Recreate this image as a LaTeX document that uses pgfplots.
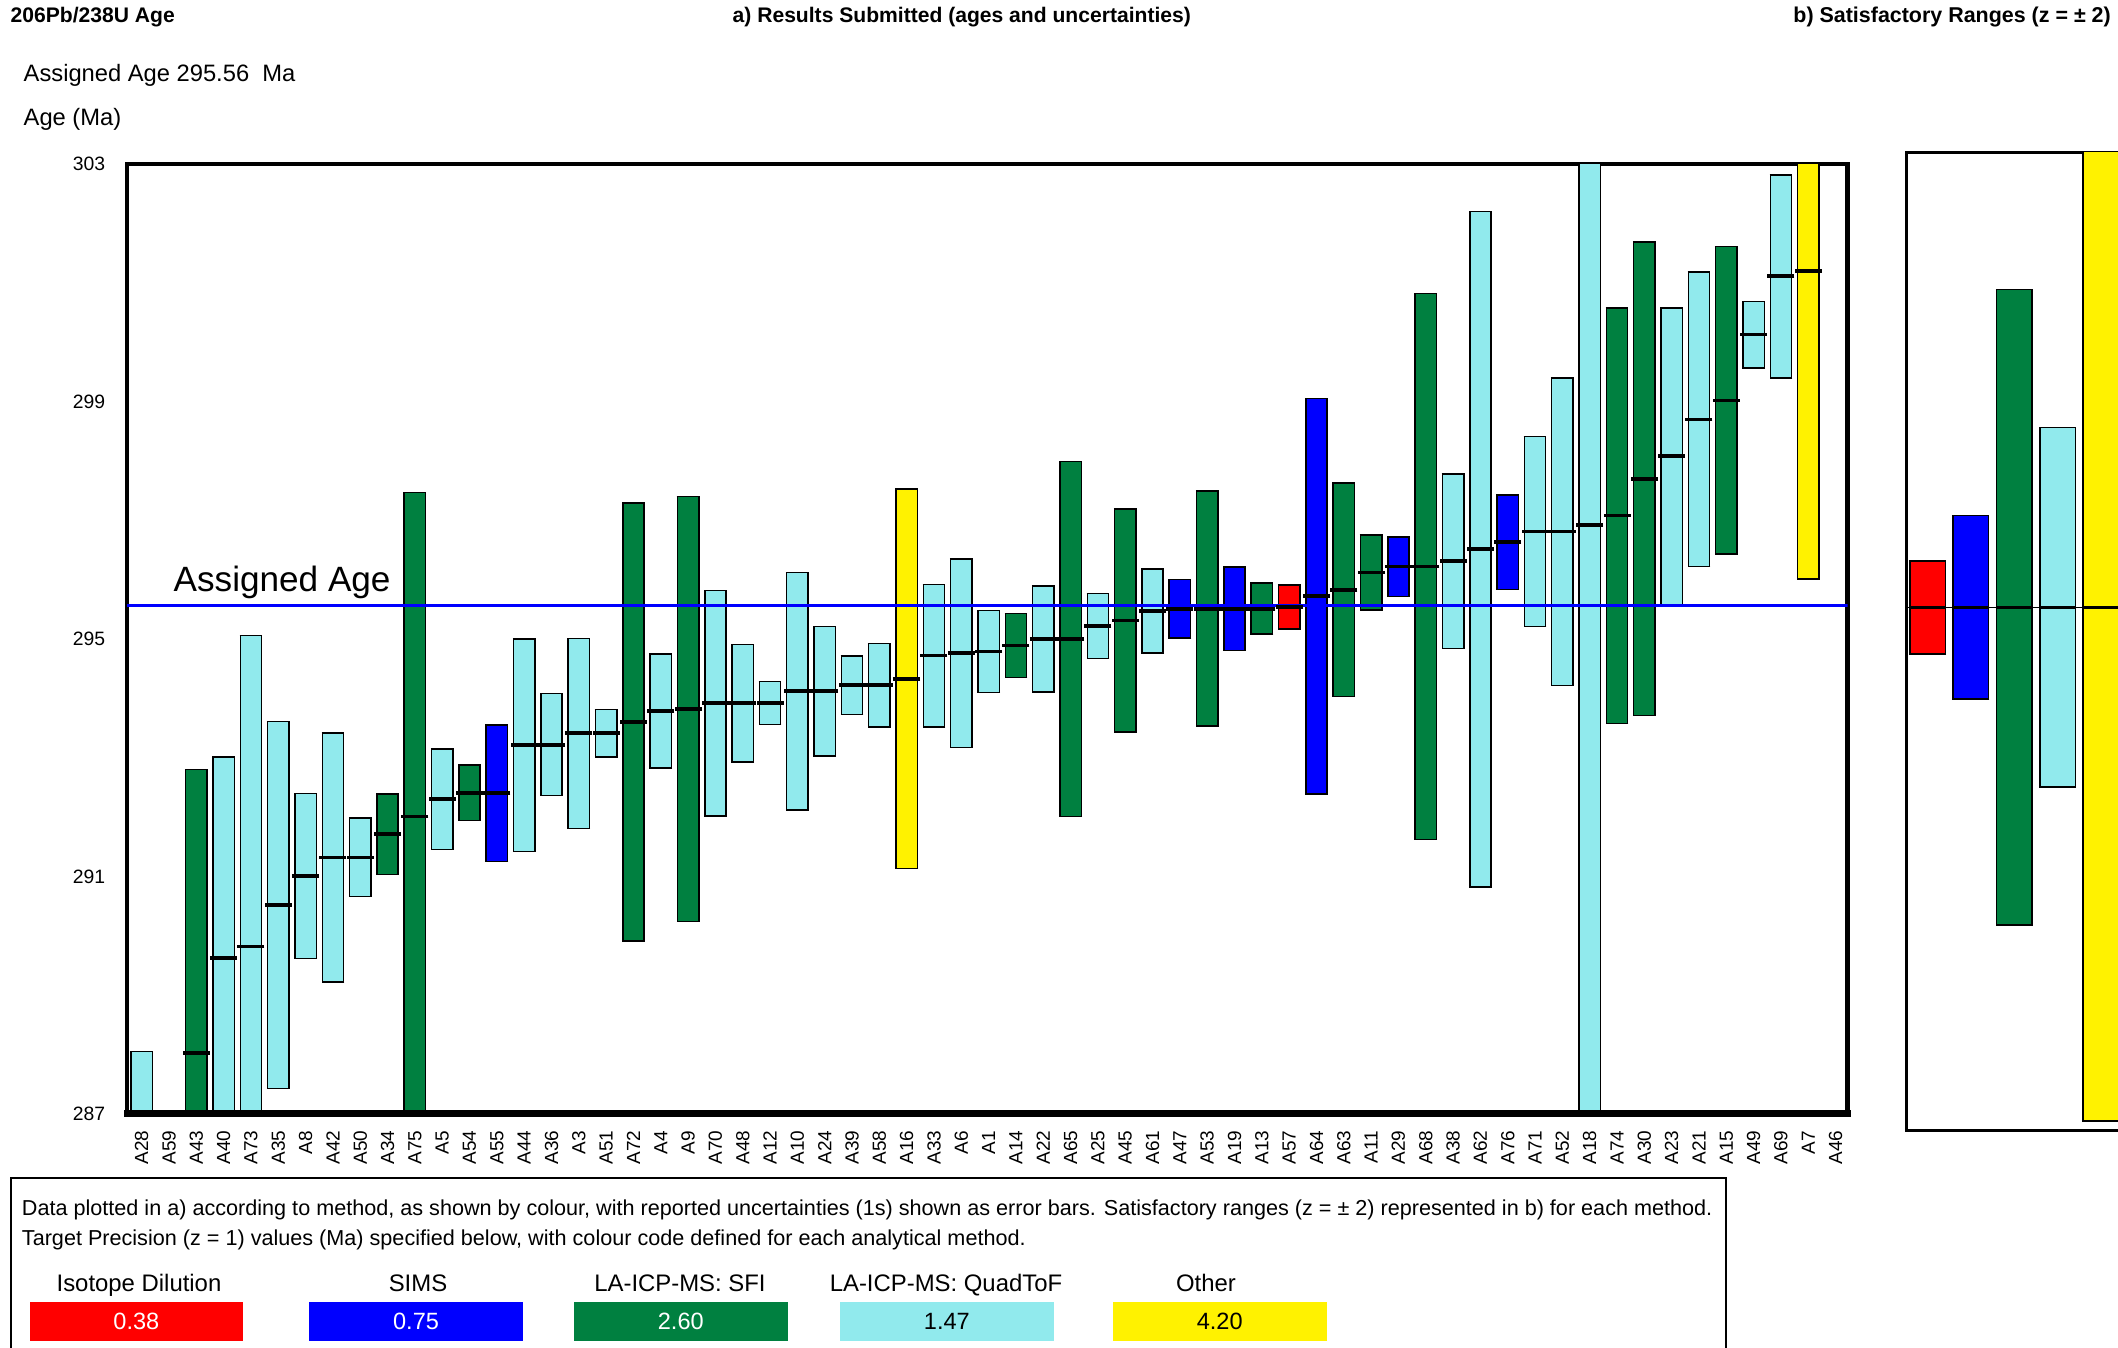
\documentclass[border=0pt]{standalone}
\usepackage{pgfplots}
\pgfplotsset{compat=1.18}
\usepackage{pgfplotstable}
\usepackage{fontspec}
\setmainfont{Liberation Sans}

\definecolor{cID}{RGB}{255,0,0}
\definecolor{cSIMS}{RGB}{0,0,255}
\definecolor{cSFI}{RGB}{0,128,64}
\definecolor{cQ}{RGB}{145,234,237}
\definecolor{cOth}{RGB}{255,242,0}

% x = category index, m = reported age (Ma), s = 1s uncertainty (Ma)
\pgfplotstableread{
x m s
0 286.60 1.45
3 289.62 3.39
4 289.82 5.24
5 290.52 3.09
6 291.01 1.39
7 291.32 2.10
8 291.32 0.66
11 292.30 0.85
14 293.21 1.79
15 293.22 0.86
16 293.41 1.60
17 293.41 0.40
19 293.79 0.96
21 293.92 1.90
22 293.92 0.99
23 293.92 0.36
24 294.12 2.00
25 294.12 1.09
26 294.22 0.49
27 294.22 0.70
29 294.72 1.20
30 294.76 1.59
31 294.79 0.69
33 295.00 0.89
35 295.22 0.55
37 295.47 0.71
48 296.31 1.47
49 296.51 5.69
51 296.81 1.60
52 296.81 2.59
53 296.92 10.50
56 298.08 2.50
57 298.70 2.48
59 300.13 0.56
60 301.11 1.71
}\tblQ

\pgfplotstableread{
x m s
2 288.03 4.77
9 291.71 0.68
10 292.01 5.46
12 292.41 0.47
18 293.60 3.69
20 293.82 3.58
32 294.89 0.54
34 295.00 2.99
36 295.31 1.88
39 295.51 1.98
41 295.51 0.43
44 295.83 1.80
45 296.12 0.63
47 296.22 4.60
54 297.08 3.50
55 297.70 3.99
58 299.02 2.59
}\tblSFI

\pgfplotstableread{
x m s
13 292.40 1.15
38 295.51 0.49
40 295.51 0.70
43 295.72 3.33
46 296.22 0.50
50 296.63 0.80
}\tblSIMS

\pgfplotstableread{
x m s
42 295.54 0.37
}\tblID

\pgfplotstableread{
x m s
28 294.33 3.20
61 301.20 5.19
}\tblOth

\pgfplotsset{
  boxout/.style={draw=none, mark=none, forget plot,
    error bars/.cd, y dir=both, y explicit, error mark=none,
    error bar style={draw=black, line width=4.56mm}},
  boxin/.style={draw=none, mark=none, forget plot,
    error bars/.cd, y dir=both, y explicit,
    error bar style={draw=#1, line width=3.96mm},
    error mark=|,
    error mark options={draw=black, line width=0.3mm, mark size=2.28mm}},
  meanline/.style={only marks, mark=-, forget plot, mark size=2.7mm,
    mark options={draw=black, line width=0.75mm}},
  rboxout/.style={draw=none, mark=none, forget plot,
    error bars/.cd, y dir=both, y explicit, error mark=none,
    error bar style={draw=black, line width=7.4mm}},
  rboxin/.style={draw=none, mark=none, forget plot,
    error bars/.cd, y dir=both, y explicit,
    error bar style={draw=#1, line width=6.8mm},
    error mark=|,
    error mark options={draw=black, line width=0.3mm, mark size=3.7mm}},
  rmean/.style={only marks, mark=-, forget plot, mark size=3.7mm,
    mark options={draw=black, line width=0.5mm}},
}

\begin{document}
\begin{tikzpicture}
\useasboundingbox (0,0) rectangle (423.6mm,269.6mm);

% ---------------- main panel a)
\begin{axis}[
  name=main,
  at={(25.44mm,46.84mm)}, anchor=south west,
  scale only axis, width=344.08mm, height=189.92mm,
  xmin=-0.53, xmax=62.44, ymin=287, ymax=303,
  ytick={287,291,295,299,303},
  xtick={0,...,62},
  xticklabels={A28,A59,A43,A40,A73,A35,A8,A42,A50,A34,A75,A5,A54,A55,A44,A36,A3,A51,A72,A4,A9,A70,A48,A12,A10,A24,A39,A58,A16,A33,A6,A1,A14,A22,A65,A25,A45,A61,A47,A53,A19,A13,A57,A64,A63,A11,A29,A68,A38,A62,A76,A71,A52,A18,A74,A30,A23,A21,A15,A49,A69,A7,A46},
  major tick length=0pt,
  /pgf/number format/assume math mode=true,
  yticklabel style={font=\fontsize{11}{13}\selectfont, anchor=east, inner sep=0pt, outer sep=0pt, xshift=-4.4mm},
  xticklabel style={font=\fontsize{10.8}{12}\selectfont, rotate=90, anchor=east, inner sep=0pt, outer sep=3.4mm},
  axis line style={line width=0.9mm},
  clip marker paths=true,
]
\addplot[boxout] table[x=x,y=m,y error=s]{\tblQ};
\addplot[boxin=cQ] table[x=x,y=m,y error=s]{\tblQ};
\addplot[boxout] table[x=x,y=m,y error=s]{\tblSFI};
\addplot[boxin=cSFI] table[x=x,y=m,y error=s]{\tblSFI};
\addplot[boxout] table[x=x,y=m,y error=s]{\tblSIMS};
\addplot[boxin=cSIMS] table[x=x,y=m,y error=s]{\tblSIMS};
\addplot[boxout] table[x=x,y=m,y error=s]{\tblID};
\addplot[boxin=cID] table[x=x,y=m,y error=s]{\tblID};
\addplot[boxout] table[x=x,y=m,y error=s]{\tblOth};
\addplot[boxin=cOth] table[x=x,y=m,y error=s]{\tblOth};
% assigned age
\addplot[draw=cSIMS, line width=0.64mm, forget plot] coordinates {(-0.53,295.56) (62.44,295.56)};
\addplot[meanline] table[x=x,y=m]{\tblQ};
\addplot[meanline] table[x=x,y=m]{\tblSFI};
\addplot[meanline] table[x=x,y=m]{\tblSIMS};
\addplot[meanline] table[x=x,y=m]{\tblID};
\addplot[meanline] table[x=x,y=m]{\tblOth};
\end{axis}
\draw[line width=1.4mm, line cap=rect] (25.44mm,46.84mm) -- (369.52mm,46.84mm);

% ---------------- right panel b)
\begin{axis}[
  at={(381.2mm,43.48mm)}, anchor=south west,
  scale only axis, width=43.3mm, height=195.6mm,
  xmin=-0.5, xmax=4.5, ymin=287, ymax=303,
  ticks=none,
  axis line style={line width=0.6mm},
  clip marker paths=true,
]
\addplot[draw=black, line width=0.25mm, forget plot] coordinates {(-0.5,295.56) (4.5,295.56)};
\addplot[rboxout] coordinates {(0,295.56) +- (0,0.76)};
\addplot[rboxin=cID] coordinates {(0,295.56) +- (0,0.76)};
\addplot[rboxout] coordinates {(1,295.56) +- (0,1.50)};
\addplot[rboxin=cSIMS] coordinates {(1,295.56) +- (0,1.50)};
\addplot[rboxout] coordinates {(2,295.56) +- (0,5.20)};
\addplot[rboxin=cSFI] coordinates {(2,295.56) +- (0,5.20)};
\addplot[rboxout] coordinates {(3,295.56) +- (0,2.94)};
\addplot[rboxin=cQ] coordinates {(3,295.56) +- (0,2.94)};
\addplot[rboxout] coordinates {(4,295.56) +- (0,8.40)};
\addplot[rboxin=cOth] coordinates {(4,295.56) +- (0,8.40)};
\addplot[rmean] coordinates {(0,295.56) (1,295.56) (2,295.56) (3,295.56) (4,295.56)};
\end{axis}

% ---------------- titles and labels
\node[anchor=base west, font=\bfseries\fontsize{12}{14}\selectfont] at (0.9mm,265.1mm) {206Pb/238U Age};
\node[anchor=base, font=\bfseries\fontsize{12}{14}\selectfont] at (192.36mm,265.1mm) {a) Results Submitted (ages and uncertainties)};
\node[anchor=base east, font=\bfseries\fontsize{12.2}{14}\selectfont] at (423.4mm,265.1mm) {b) Satisfactory Ranges (z = ± 2)};
\node[anchor=base west, font=\fontsize{13.5}{16}\selectfont] at (3.5mm,253.3mm) {Assigned Age 295.56\ \ Ma};
\node[anchor=base west, font=\fontsize{13.5}{16}\selectfont] at (3.5mm,244.5mm) {Age (Ma)};
\node[anchor=base west, font=\fontsize{20}{24}\selectfont] at (33.5mm,151.26mm) {Assigned Age};

% ---------------- legend box
\draw[line width=0.45mm] (2.16mm,-5mm) rectangle (345.2mm,34.0mm);
\node[anchor=base west, font=\fontsize{12.3}{14}\selectfont, inner sep=0pt] at (4.32mm,26.46mm) {Data plotted in a) according to method, as shown by colour, with reported uncertainties (1s) shown as error bars. Satisfactory ranges (z = ± 2) represented in b) for each method.};
\node[anchor=base west, font=\fontsize{12.3}{14}\selectfont, inner sep=0pt] at (4.32mm,20.52mm) {Target Precision (z = 1) values (Ma) specified below, with colour code defined for each analytical method.};

\foreach \lab/\cx in {Isotope Dilution/27.8, SIMS/83.6, LA-ICP-MS: SFI/136.0, LA-ICP-MS: QuadToF/189.2, Other/241.2} {
  \node[anchor=base, font=\fontsize{13.6}{16}\selectfont] at (\cx mm,11.32mm) {\lab};
}
\fill[cID]   (5.94mm,1.34mm)   rectangle (48.62mm,9.16mm);
\fill[cSIMS] (61.86mm,1.34mm)  rectangle (104.56mm,9.16mm);
\fill[cSFI]  (114.82mm,1.34mm) rectangle (157.5mm,9.16mm);
\fill[cQ]    (168.04mm,1.34mm) rectangle (210.72mm,9.16mm);
\fill[cOth]  (222.6mm,1.34mm)  rectangle (265.3mm,9.16mm);
\node[font=\fontsize{13.4}{16}\selectfont, text=white] at (27.28mm,5.25mm) {0.38};
\node[font=\fontsize{13.4}{16}\selectfont, text=white] at (83.21mm,5.25mm) {0.75};
\node[font=\fontsize{13.4}{16}\selectfont, text=white] at (136.16mm,5.25mm) {2.60};
\node[font=\fontsize{13.4}{16}\selectfont, text=black] at (189.38mm,5.25mm) {1.47};
\node[font=\fontsize{13.4}{16}\selectfont, text=black] at (243.95mm,5.25mm) {4.20};
\end{tikzpicture}
\end{document}
